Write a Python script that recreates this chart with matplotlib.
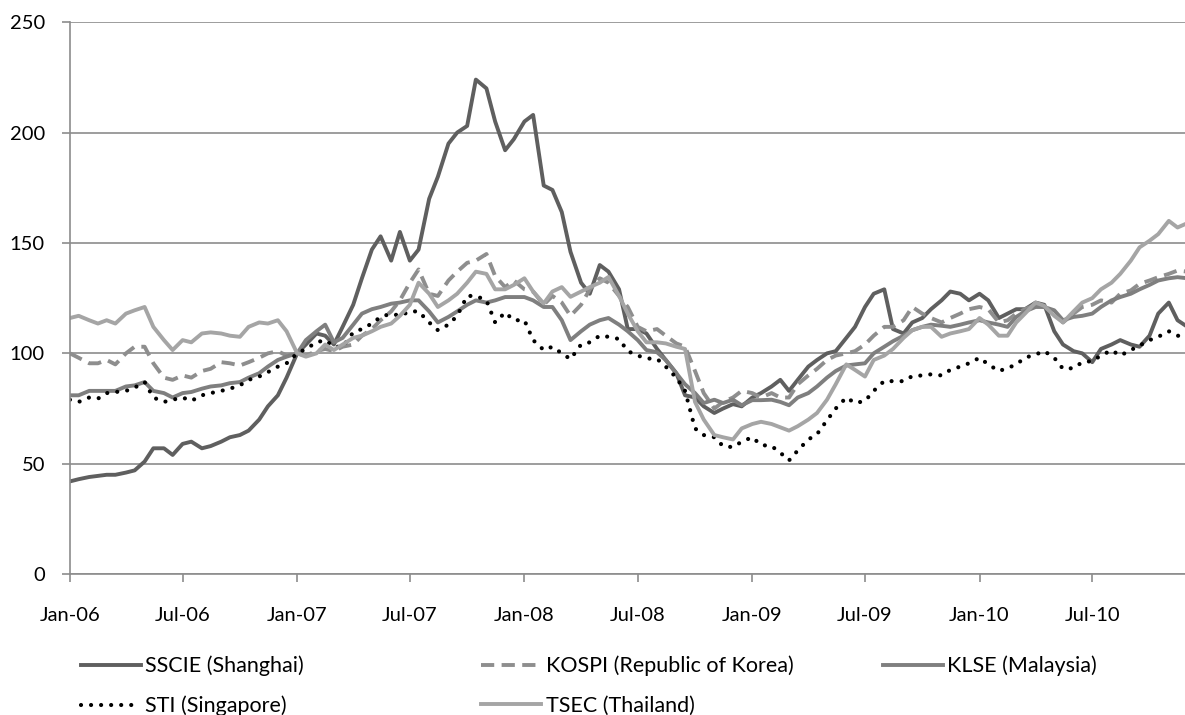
import matplotlib
matplotlib.use('Agg')
import matplotlib.pyplot as plt
import matplotlib.dates as mdates
import pandas as pd

plt.rcParams['font.family'] = ['Lato', 'DejaVu Sans']

# semi-monthly readings (1st and 15th of each month), Jan-2006 .. Dec-2010, index Jan-2007 = 100
dates = pd.date_range('2006-01-01', periods=119, freq='SMS')

sscie = [42, 43, 44, 44.5, 45, 45, 46, 47, 51, 57, 57, 54, 59, 60, 57, 58, 60, 62, 63, 65, 70, 76, 81, 89,
         100, 104, 109, 108, 104, 112, 122, 134, 147, 153, 142, 155, 142, 147, 170, 180, 195, 200, 203, 224, 220, 205, 192, 197,
         205, 208, 176, 174, 164, 146, 132, 127, 140, 137, 129, 111, 111, 109, 102, 97, 91, 81, 80, 76, 73, 75, 77, 76,
         80, 82, 85, 88, 83, 88, 94, 97, 100, 101, 107, 112, 121, 127, 129, 111, 109, 114, 116, 120, 124, 128, 127, 124,
         127, 124, 116, 118, 120, 120, 123, 122, 110, 104, 101, 100, 96, 102, 104, 106, 104, 103, 108, 118, 123, 115,
         112]

kospi = [100, 98, 95.5, 95.5, 97, 95, 100, 103, 103, 95.5, 89, 88, 90, 89, 92, 93, 96, 95.5, 94.5, 96, 98, 100, 101, 99,
         100, 99, 101, 102, 101, 103, 104, 108, 111, 115, 119, 124, 132, 138, 127, 126, 133, 137, 141, 142, 145, 135, 130, 133,
         129, 128, 122, 126, 123, 117, 122, 129, 134, 132, 126, 121, 112, 110, 111, 108, 104.5, 103, 92, 82, 75, 78, 80, 83,
         82, 80, 82, 80, 80, 86, 90, 93, 97, 99, 100, 101, 104, 108, 112, 112, 115, 121, 118, 116, 114, 116, 118, 120,
         121, 120, 114, 115, 118, 120, 122, 121, 118, 114, 118, 121, 122, 124, 123, 127, 128.5, 131.5, 133, 134.5, 136, 137.5,
         137]

klse = [81, 81, 83, 83, 83, 83, 85, 85.5, 87, 83, 82, 80, 82, 82.5, 84, 85, 85.5, 86.5, 87, 89, 91, 94, 97, 98.5,
        100, 106, 110, 113, 105, 107, 113, 118, 120, 121, 122.5, 123, 124, 124, 119, 114, 116.5, 119, 122, 124, 123, 124, 125.5, 125.5,
        125.5, 124, 121, 121, 115, 106, 110, 113, 115, 116, 113, 110, 106, 101.5, 100.5, 97, 91, 86, 82, 77.5, 79, 77.5, 79, 76.5,
        78.8, 78.8, 79, 78, 76.5, 80, 82, 85, 89, 92, 94.5, 95, 95.5, 100, 103, 105.5, 108, 110.5, 112, 113, 112.5, 112, 113, 114,
        115, 114, 113, 112, 116.5, 119, 121, 121, 119.5, 115, 116.5, 117, 118, 121, 124, 125.5, 127, 129, 131, 133, 134, 134.5,
        134]

sti = [79, 78, 80, 79.5, 82, 82.5, 83, 84.5, 87, 80, 78, 79, 80, 78.5, 81, 82, 83, 84, 85.5, 88, 89.5, 91.5, 94, 95.5,
       100, 102, 105, 106, 103, 103, 109.5, 111, 113.5, 116.5, 118, 117, 119, 119, 114, 110.5, 113, 117, 126, 126, 124, 114, 118.5, 115,
       115, 106, 101.5, 103, 100, 97.4, 104, 105, 108, 107.5, 106.5, 101, 99, 97.7, 97.5, 94, 89, 83, 66, 63, 62, 58, 57.5, 60,
       62, 58.5, 58, 55, 51.5, 56, 61, 63.4, 69.7, 75, 80, 77.5, 78.4, 83, 87.5, 87.4, 87.4, 89.7, 90, 90.5, 90, 92.5, 94, 95.5,
       98, 95, 92, 93.3, 95, 98, 99.5, 101, 98, 93, 93.3, 96, 96.5, 99, 101.4, 99, 101.5, 103.5, 106, 107.5, 110, 108,
       107.5]

tsec = [116, 117, 115, 113.5, 115, 113.5, 118, 119.5, 121, 112, 106, 101.5, 106, 105, 109, 109.5, 109, 108, 107.5, 112, 114, 113.5, 115, 110,
        100, 98.5, 100, 104, 101.5, 104, 107, 108, 110, 112, 113.5, 117, 122, 132, 127, 121, 124, 127, 132, 137, 136, 129, 129, 131,
        134, 128, 122.6, 128, 130, 125.6, 128, 130, 132, 134.6, 126, 118, 110, 105, 105, 104.5, 103, 102, 78, 70, 63, 62, 61, 66,
        68, 69, 68, 66.5, 65, 67, 70, 73, 79, 86, 95, 92.5, 89.5, 97, 99, 102, 107, 110.5, 112, 112, 107.5, 109, 110, 111,
        116, 113, 108, 108, 114, 118, 123, 121.5, 117, 114, 119, 123, 125, 129, 132, 136, 142, 148, 151, 154, 160, 157,
        159]

names = ['SSCIE (Shanghai)', 'KOSPI (Republic of Korea)', 'KLSE (Malaysia)', 'STI (Singapore)', 'TSEC (Thailand)']

fig = plt.figure(figsize=(11.85, 7.15), dpi=100)
ax = fig.add_axes([0.059, 0.197, 0.941, 0.772])

lw = 2.8
l1, = ax.plot(dates, sscie, color='#5f5f5f', lw=lw, solid_joinstyle='round')
l2, = ax.plot(dates, kospi, color='#8e8e8e', lw=lw, linestyle=(0, (3.4, 1.9)))
l3, = ax.plot(dates, klse, color='#7f7f7f', lw=lw, solid_joinstyle='round')
l4, = ax.plot(dates, sti, color='black', lw=3.0, linestyle=(0, (0.01, 2.4)), dash_capstyle='round')
l5, = ax.plot(dates, tsec, color='#a5a5a5', lw=lw, solid_joinstyle='round')

ax.set_ylim(0, 250)
ax.set_yticks([0, 50, 100, 150, 200, 250])
ax.set_xlim(pd.Timestamp('2006-01-01'), pd.Timestamp('2010-11-27'))
ax.xaxis.set_major_locator(mdates.MonthLocator(bymonth=[1, 7]))
ax.xaxis.set_major_formatter(mdates.DateFormatter('%b-%y'))

ax.grid(axis='y', color='#8c8c8c', lw=1.2)
ax.set_axisbelow(True)
for s in ['top', 'right']:
    ax.spines[s].set_visible(False)
for s in ['left', 'bottom']:
    ax.spines[s].set_color('#8c8c8c')
    ax.spines[s].set_linewidth(1.2)
ax.tick_params(axis='both', colors='#8c8c8c', labelcolor='black', labelsize=14.5, length=6, width=1.2)
ax.tick_params(axis='x', pad=18)
ax.tick_params(axis='y', pad=12)

# legend placed column by column like the original
leg_kw = dict(frameon=False, fontsize=15.5, handlelength=2.8, handletextpad=0.2, labelspacing=0.9,
              loc='upper left', borderaxespad=0, borderpad=0)
fig.legend([l1, l4], [names[0], names[3]], bbox_to_anchor=(0.068, 0.083), **leg_kw)
fig.legend([l2, l5], [names[1], names[4]], bbox_to_anchor=(0.406, 0.083), **leg_kw)
fig.legend([l3], [names[2]], bbox_to_anchor=(0.745, 0.083), **leg_kw)

fig.savefig('out.png', dpi=100)
